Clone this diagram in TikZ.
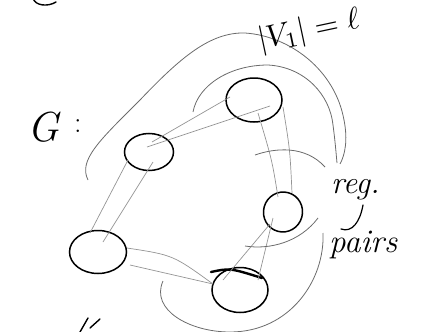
\documentclass[tikz,border=0pt]{standalone}
\usetikzlibrary{shapes.geometric}
\begin{document}
\begin{tikzpicture}[x=1pt,y=-1pt,
  vert/.style={ellipse, draw=black, line width=1.5pt, inner sep=0pt},
  edge/.style={draw=black!42, line width=0.7pt},
  arcline/.style={draw=black!58, line width=0.8pt},
  ink/.style={draw=black, line width=1.4pt, line cap=round, line join=round},
  hand/.style={inner sep=0pt, text=black, font=\itshape}]
\useasboundingbox (0,0) rectangle (426,332);
\clip (0,0) rectangle (426,332);

% vertices
\node[vert, minimum width=56pt, minimum height=44pt] (A) at (254,100) {};
\node[vert, minimum width=49pt, minimum height=37pt] (B) at (149,152) {};
\node[vert, minimum width=39pt, minimum height=40pt, rotate=-15] (C) at (283,212) {};
\node[vert, minimum width=57pt, minimum height=43pt] (D) at (98,252) {};
\node[vert, minimum width=56pt, minimum height=45pt] (E) at (240,290) {};

% heavy stroke on top of E
\draw[ink, line width=2.4pt] ([shift={(-29,-18)}]E.center) .. controls ([shift={(-10,-22)}]E.center) .. ([shift={(22,-12)}]E.center);

% doubled edges
\draw[edge] ([shift={(3,-10)}]B.center) -- ([shift={(-24,-3)}]A.center);
\draw[edge] ([shift={(-2,-5)}]B.center) -- ([shift={(16,6)}]A.center);
\draw[edge] ([shift={(-21,8)}]B.center) -- ([shift={(-8,-19)}]D.center);
\draw[edge] ([shift={(4,10)}]B.center) -- ([shift={(5,-10)}]D.center);
\draw[edge] ([shift={(4,13)}]A.center) .. controls ([shift={(18,60)}]A.center) .. ([shift={(-5,-15)}]C.center);
\draw[edge] ([shift={(29,7)}]A.center) .. controls ([shift={(36,50)}]A.center) .. ([shift={(9,-19)}]C.center);
\draw[edge] ([shift={(29,-4)}]D.center) .. controls ([shift={(75,3)}]D.center) .. ([shift={(-27,-6)}]E.center);
\draw[edge] ([shift={(32,13)}]D.center) -- ([shift={(-27,-6)}]E.center);
\draw[edge] ([shift={(-10,6)}]C.center) -- ([shift={(18,-10)}]E.center);
\draw[edge] ([shift={(-13,12)}]C.center) -- ([shift={(-17,-10)}]E.center);

% enclosing arcs
\coordinate (o1) at (88,180);
\coordinate (o2) at (340,164);
\draw[arcline] (o1) .. controls (78,160) and (100,140) .. (140,100)
  .. controls (180,58) and (210,32) .. (245,33)
  .. controls (290,36) and (335,70) .. (344,120)
  .. controls (348,140) and (345,155) .. (o2);
\coordinate (i1) at (193,112);
\coordinate (i2) at (337,163);
\draw[arcline] (i1) .. controls (198,85) and (230,65) .. (268,65)
  .. controls (305,67) and (330,95) .. (333,125)
  .. controls (335,140) and (336,152) .. (i2);
\coordinate (x1) at (255,155);
\coordinate (x2) at (325,167);
\draw[arcline] (x1) .. controls (275,148) and (305,145) .. (x2);
\coordinate (u1) at (245,246);
\coordinate (u2) at (318,218);
\draw[arcline] (u1) .. controls (270,250) and (300,242) .. (u2);
\coordinate (w1) at (163,281);
\coordinate (w2) at (323,233);
\draw[arcline] (w1) .. controls (150,310) and (190,332) .. (230,332)
  .. controls (290,332) and (325,280) .. (w2);

% labels
\node[hand, font=\itshape\fontsize{42}{42}\selectfont] (G) at (43,127) {G};
\node[hand, font=\fontsize{30}{30}\selectfont, anchor=west] (Gc) at (74,126) {:};
\node[hand, rotate=12] (V1) at (309,31) {\scalebox{3.1}{$|V_{1}|=\ell$}};
\node[hand, font=\itshape\fontsize{32}{32}\selectfont, anchor=west] (reg) at (331,190) {reg.};
\node[hand, font=\itshape\fontsize{33}{33}\selectfont, anchor=west] (pairs) at (329,245) {pairs};
\draw[ink, line width=1.2pt] (363,205) .. controls (360,222) and (352,233) .. (341,229);

% clipped fragments at the borders
\draw[ink] (33,-2) .. controls (35,6) and (48,7) .. (56,2);
\draw[ink] (80,332) -- (88,318);
\draw[ink] (90,328) -- (100,319);
\end{tikzpicture}
\end{document}
